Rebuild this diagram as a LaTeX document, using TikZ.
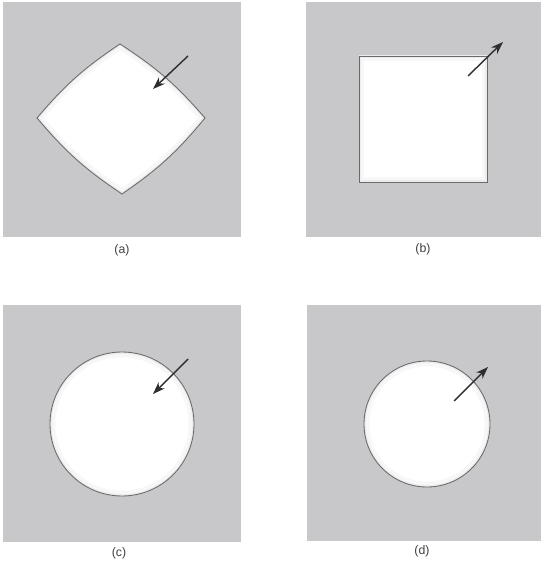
\documentclass[tikz,border=0pt]{standalone}
\usepackage{fontspec}
\newfontfamily\lblfont{Liberation Sans}
\usepackage{tikz}
\usetikzlibrary{arrows.meta}
\definecolor{panelgray}{HTML}{C8C8CA}
\definecolor{rimgray}{HTML}{6A6A6C}
\definecolor{arrowgray}{HTML}{2E2E30}

% outlines of the four holes (pixel units)
\newcommand{\holeApath}{(120,44) to[bend left=8] (205,118) to[bend left=8] (122,194) to[bend left=8] (37,118) to[bend left=8] cycle}
\newcommand{\holeBpath}{(359,56) rectangle (487,182)}
\newcommand{\holeCpath}{(122,424) circle (72)}
\newcommand{\holeDpath}{(427,424) circle (63)}

\begin{document}
\begin{tikzpicture}[
  x=0.02cm,y=-0.02cm,
  panel/.style={fill=panelgray,draw=none},
  hole/.style={fill=white},
  rim/.style={draw=rimgray,line width=0.5pt},
  glow/.style={draw=panelgray!15,line width=6pt},
  glowin/.style={draw=panelgray!35,line width=2pt},
  lbl/.style={font=\lblfont\fontsize{7}{8}\selectfont,text=black!75,inner sep=0pt},
  arrow/.style={-{Stealth[length=7pt,width=5pt]},line width=0.8pt,color=arrowgray}
]
\useasboundingbox (0,0) rectangle (542,570);

% panels
\fill[panel] (3,2) rectangle (241,237);
\fill[panel] (306,2) rectangle (541,237);
\fill[panel] (3,305) rectangle (241,542);
\fill[panel] (307,305) rectangle (541,541);

% holes with soft inner edge
\foreach \hp in {\holeApath,\holeBpath,\holeCpath,\holeDpath}{
  \fill[hole] \hp;
  \begin{scope}
    \clip \hp;
    \draw[glow] \hp;
    \draw[glowin] \hp;
  \end{scope}
  \draw[rim] \hp;
}

% arrows
\coordinate (aTail) at (188,56);
\coordinate (aTip) at (153,89);
\coordinate (bTail) at (468,76);
\coordinate (bTip) at (503,42);
\coordinate (cTail) at (188,359);
\coordinate (cTip) at (153,394);
\coordinate (dTail) at (454,401);
\coordinate (dTip) at (488,367);
\draw[arrow] (aTail) -- (aTip);
\draw[arrow] (bTail) -- (bTip);
\draw[arrow] (cTail) -- (cTip);
\draw[arrow] (dTail) -- (dTip);

% captions
\node[lbl] (labA) at (122,250) {(a)};
\node[lbl] (labB) at (423,249) {(b)};
\node[lbl] (labC) at (119,553) {(c)};
\node[lbl] (labD) at (422,551) {(d)};
\end{tikzpicture}
\end{document}
